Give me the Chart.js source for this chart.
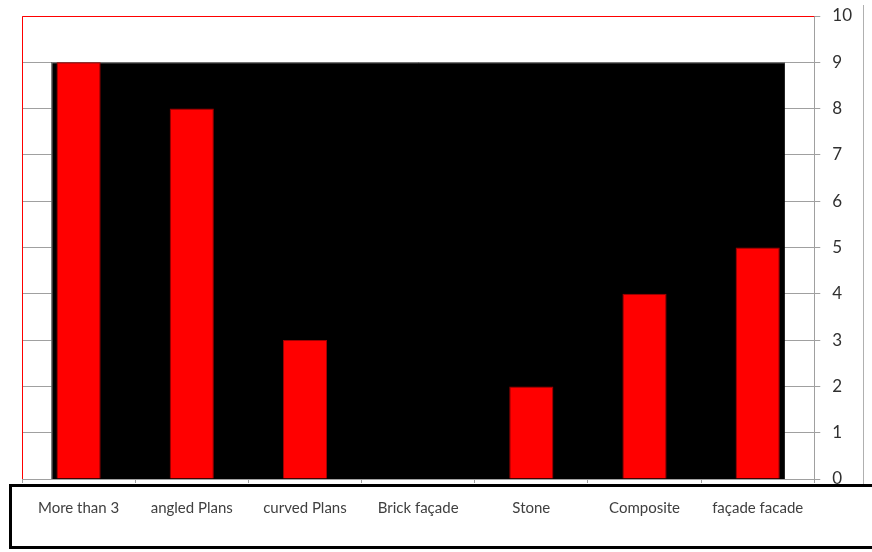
<!DOCTYPE html>
<html>
<head>
<meta charset="utf-8">
<script src="https://cdn.jsdelivr.net/npm/chart.js@4.4.0/dist/chart.umd.min.js"></script>
<style>
    body { margin: 0; background: #fff; }
    #wrap { width: 872px; height: 552px; }
</style>
</head>
<body>
<div id="wrap"><canvas id="myChart"></canvas></div>
<script>
// categories and values
var categories = ["More than 3", "angled Plans", "curved Plans", "Brick façade", "Stone", "Composite", "façade facade"];
var counts = [9, 8, 3, 0, 2, 4, 5];
var yMin = 0;
var yMax = 10;
var wallTop = 9; // black back wall goes up to this value

Chart.defaults.font.family = "Lato, 'Open Sans', sans-serif";

// back wall, red frame, bottom label box
var decorPlugin = {
    id: 'decor',
    beforeDraw: function (chart) {
        var ctx = chart.ctx;
        ctx.save();
        ctx.fillStyle = '#ffffff';
        ctx.fillRect(0, 0, chart.width, chart.height);
        // grey line at the far right
        ctx.strokeStyle = '#b0b0b0';
        ctx.lineWidth = 1;
        ctx.beginPath();
        ctx.moveTo(chart.width - 8.5, 5);
        ctx.lineTo(chart.width - 8.5, chart.chartArea.bottom + 6);
        ctx.stroke();
        ctx.restore();
    },
    beforeDatasetsDraw: function (chart) {
        var ctx = chart.ctx;
        var a = chart.chartArea;
        var x = chart.scales.x;
        var y = chart.scales.y;
        var step = x.getPixelForValue(1) - x.getPixelForValue(0);
        var left = x.getPixelForValue(0) - step * 0.24;
        var right = x.getPixelForValue(categories.length - 1) + step * 0.24;
        var top = y.getPixelForValue(wallTop);
        ctx.save();
        // red frame (top and left)
        ctx.strokeStyle = '#ff0000';
        ctx.lineWidth = 1;
        ctx.beginPath();
        ctx.moveTo(a.left + 0.5, a.bottom);
        ctx.lineTo(a.left + 0.5, a.top + 0.5);
        ctx.lineTo(a.right, a.top + 0.5);
        ctx.stroke();
        // black wall
        ctx.fillStyle = '#000000';
        ctx.fillRect(left, top, right - left, a.bottom - top);
        ctx.strokeStyle = '#909090';
        ctx.beginPath();
        ctx.moveTo(left + 0.5, a.bottom);
        ctx.lineTo(left + 0.5, top + 0.5);
        ctx.lineTo(right, top + 0.5);
        ctx.stroke();
        ctx.restore();
    },
    afterDatasetsDraw: function (chart) {
        var ctx = chart.ctx;
        var a = chart.chartArea;
        ctx.save();
        ctx.fillStyle = '#ffffff';
        ctx.fillRect(a.left - 12, a.bottom + 5, chart.width, 64);
        ctx.strokeStyle = '#000000';
        ctx.lineWidth = 3;
        ctx.strokeRect(a.left - 11.5, a.bottom + 6.5, chart.width, 62);
        ctx.restore();
    }
};

function barFill(context) {
    var chart = context.chart;
    var el = context.element;
    if (!chart.chartArea || !el || !el.width) {
        return '#ff0000';
    }
    var x0 = el.x - el.width / 2;
    var g = chart.ctx.createLinearGradient(x0, 0, x0 + el.width, 0);
    g.addColorStop(0, '#c80000');
    g.addColorStop(0.12, '#ff0000');
    g.addColorStop(0.88, '#ff0000');
    g.addColorStop(1, '#c80000');
    return g;
}

function BuildChart() {
    var ctx = document.getElementById("myChart").getContext('2d');
    var myChart = new Chart(ctx, {
        type: 'bar',
        data: {
            labels: categories,
            datasets: [{
                data: counts,
                backgroundColor: barFill,
                borderColor: '#a00000',
                borderWidth: 1,
                barPercentage: 0.39,
                categoryPercentage: 1
            }]
        },
        options: {
            responsive: true,
            maintainAspectRatio: false,
            animation: false,
            layout: { padding: { left: 22, top: 16, right: 8, bottom: 19 } },
            plugins: {
                legend: { display: false },
                tooltip: { enabled: false }
            },
            scales: {
                x: {
                    grid: { drawOnChartArea: false, tickLength: 4, color: '#a0a0a0' },
                    border: { color: '#a0a0a0' },
                    ticks: {
                        color: '#404040',
                        font: { size: 15 },
                        padding: 16,
                        z: 1,
                        maxRotation: 0,
                        autoSkip: false
                    }
                },
                y: {
                    position: 'right',
                    min: yMin,
                    max: yMax,
                    grid: { color: '#a0a0a0', tickLength: 6 },
                    border: { color: '#a0a0a0' },
                    ticks: {
                        stepSize: 1,
                        color: '#303030',
                        font: { size: 17, lineHeight: 0.4 },
                        padding: 12
                    }
                }
            }
        },
        plugins: [decorPlugin]
    });
    return myChart;
}

BuildChart();
</script>
</body>
</html>
